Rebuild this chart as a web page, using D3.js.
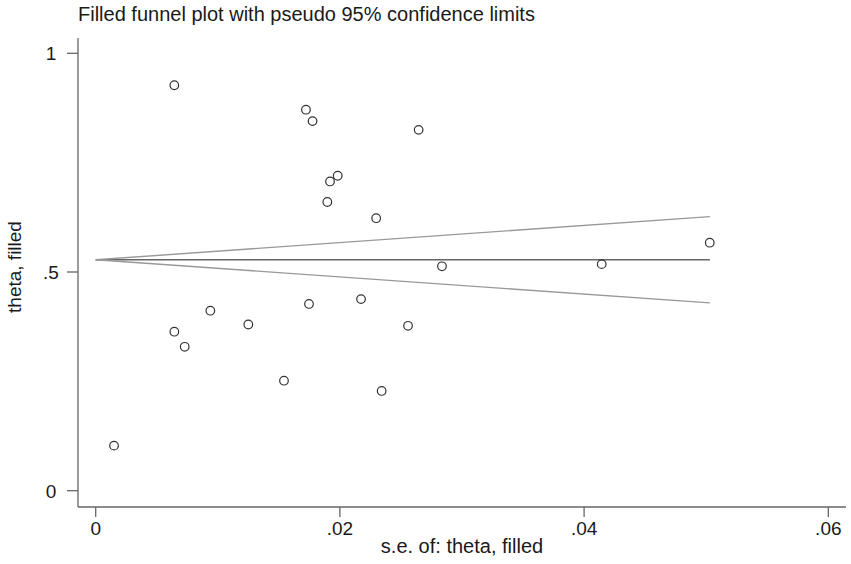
<!doctype html>
<html lang="en">
<head>
  <meta charset="utf-8">
  <title>Filled funnel plot</title>
  <script src="https://d3js.org/d3.v7.min.js"></script>
  <style>
    body { margin: 0; background: #fff; }
    text { font-family: 'Liberation Sans', Arial, sans-serif; fill: #1a1a1a; }
  </style>
</head>
<body>
  <div id="chart"></div>
  <script>
    // standard errors and effect sizes
    var se = [0.00644, 0.01722, 0.01776, 0.01982, 0.01919, 0.01897, 0.02645,
              0.02297, 0.02836, 0.04144, 0.05029, 0.00939, 0.00644, 0.00729,
              0.0125, 0.01747, 0.02173, 0.01542, 0.02558, 0.02342, 0.0015];
    var theta = [0.927, 0.871, 0.845, 0.720, 0.707, 0.660, 0.825,
                 0.623, 0.513, 0.518, 0.567, 0.4115, 0.3635, 0.329,
                 0.380, 0.427, 0.438, 0.2515, 0.377, 0.228, 0.103];
    var pooled = 0.528;
    var seMax = 0.0503;
    var xTicks = [0, 0.02, 0.04, 0.06];
    var yTicks = [0, 0.5, 1];

    var width = 851, height = 564;

    var svg = d3.select('#chart').append('svg')
        .attr('width', width)
        .attr('height', height);

    // axis lines run a little past the outer ticks, like Stata does
    var x = d3.scaleLinear().domain([0, 0.06]).range([95.7, 828.3]);
    var y = d3.scaleLinear().domain([0, 1]).range([490.7, 53.3]);

    var axisLeftX = 78, axisBottomY = 507;
    var fmt = function(d) { return d === 0 ? '0' : d3.format('.2~f')(d).replace(/^0/, ''); };

    // x axis
    svg.append('line')
        .attr('x1', axisLeftX).attr('x2', 846)
        .attr('y1', axisBottomY).attr('y2', axisBottomY)
        .attr('stroke', '#666').attr('stroke-width', 1.3);
    var xt = svg.selectAll('.xtick').data(xTicks).enter().append('g')
        .attr('class', 'xtick')
        .attr('transform', function(d) { return 'translate(' + x(d) + ',' + axisBottomY + ')'; });
    xt.append('line').attr('y2', 10).attr('stroke', '#666').attr('stroke-width', 1.3);
    xt.append('text').attr('y', 28).attr('text-anchor', 'middle')
        .style('font-size', '19px').text(fmt);

    // y axis
    svg.append('line')
        .attr('x1', axisLeftX).attr('x2', axisLeftX)
        .attr('y1', 38).attr('y2', axisBottomY)
        .attr('stroke', '#666').attr('stroke-width', 1.3);
    var yt = svg.selectAll('.ytick').data(yTicks).enter().append('g')
        .attr('class', 'ytick')
        .attr('transform', function(d) { return 'translate(' + axisLeftX + ',' + y(d) + ')'; });
    yt.append('line').attr('x2', -11).attr('stroke', '#666').attr('stroke-width', 1.3);
    yt.append('text').attr('x', -27).attr('dy', '0.36em').attr('text-anchor', 'middle')
        .style('font-size', '19px').text(fmt);

    // funnel: pooled line and pseudo 95% limits
    var seLine = [0, seMax];
    svg.append('path')
        .datum(seLine)
        .attr('d', d3.line().x(function(d) { return x(d); }).y(function(d) { return y(pooled); }))
        .attr('fill', 'none').attr('stroke', '#666').attr('stroke-width', 1.6);
    [1, -1].forEach(function(s) {
      svg.append('path')
          .datum(seLine)
          .attr('d', d3.line().x(function(d) { return x(d); }).y(function(d) { return y(pooled + s * 1.96 * d); }))
          .attr('fill', 'none').attr('stroke', '#999').attr('stroke-width', 1.4);
    });

    // study points
    svg.selectAll('.pt').data(se).enter().append('circle')
        .attr('class', 'pt')
        .attr('cx', function(d) { return x(d); })
        .attr('cy', function(d, i) { return y(theta[i]); })
        .attr('r', 4.3)
        .attr('fill', 'none')
        .attr('stroke', '#333')
        .attr('stroke-width', 1.2);

    // titles
    svg.append('text')
        .attr('x', 78).attr('y', 21)
        .style('font-size', '20px')
        .text('Filled funnel plot with pseudo 95% confidence limits');

    svg.append('text')
        .attr('x', (axisLeftX + 846) / 2).attr('y', 553)
        .attr('text-anchor', 'middle')
        .style('font-size', '20px')
        .text('s.e. of: theta, filled');

    svg.append('text')
        .attr('transform', 'translate(21,267) rotate(-90)')
        .attr('text-anchor', 'middle')
        .style('font-size', '19px')
        .text('theta, filled');
  </script>
</body>
</html>
